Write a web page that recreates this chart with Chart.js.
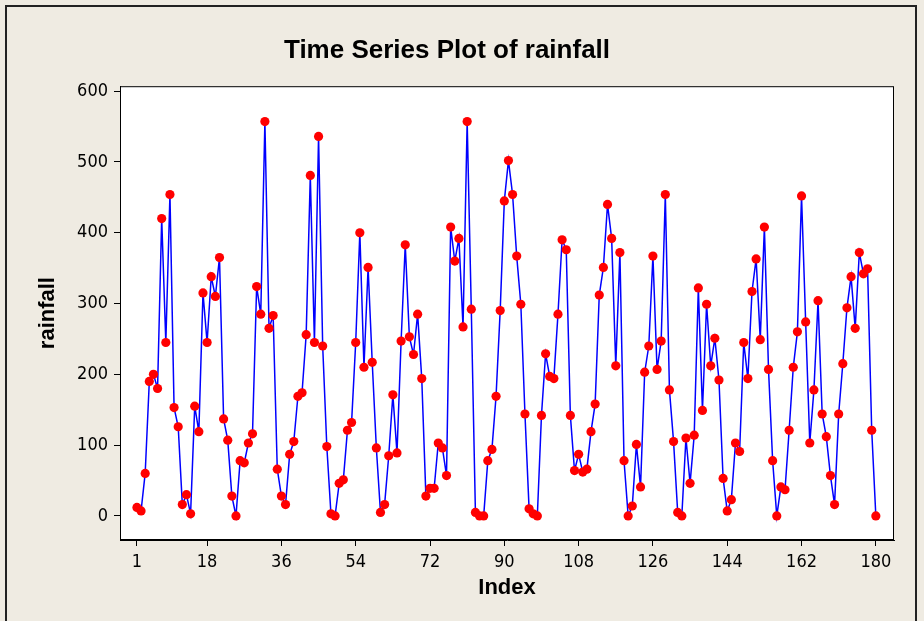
<!DOCTYPE html>
<html>
<head>
<meta charset="utf-8">
<script src="https://cdn.jsdelivr.net/npm/chart.js@4.4.1/dist/chart.umd.min.js"></script>
<style>
  html, body { margin: 0; padding: 0; background: #efebe2; }
</style>
</head>
<body>
<canvas id="rainChart" width="924" height="621"></canvas>
<script>
// monthly rainfall (index 1..180)
const rainfall = [
  12, 7, 60, 190, 200, 180, 420, 245, 454, 153,
  126, 16, 30, 3, 155, 119, 315, 245, 338, 310,
  365, 137, 107, 28, 0, 78, 75, 103, 116, 324,
  285, 557, 265, 283, 66, 28, 16, 87, 105, 169,
  174, 256, 481, 245, 536, 240, 98, 3, 0, 46,
  51, 121, 132, 245, 400, 210, 351, 217, 96, 5,
  16, 85, 171, 89, 247, 383, 253, 228, 285, 194,
  28, 39, 39, 103, 96, 57, 408, 360, 392, 267,
  557, 292, 5, 0, 0, 78, 94, 169, 290, 445,
  502, 454, 367, 299, 144, 10, 3, 0, 142, 229,
  197, 194, 285, 390, 376, 142, 64, 87, 62, 66,
  119, 158, 312, 351, 440, 392, 212, 372, 78, 0,
  14, 101, 41, 203, 240, 367, 207, 247, 454, 178,
  105, 5, 0, 110, 46, 114, 322, 149, 299, 212,
  251, 192, 53, 7, 23, 103, 91, 245, 194, 317,
  363, 249, 408, 207, 78, 0, 41, 37, 121, 210,
  260, 452, 274, 103, 178, 304, 144, 112, 57, 16,
  144, 215, 294, 338, 265, 372, 342, 349, 121, 0
];
const indexValues = rainfall.map((v, i) => i + 1);
const xTicks = [1, 18, 36, 54, 72, 90, 108, 126, 144, 162, 180];
const yTicks = [0, 100, 200, 300, 400, 500, 600];

const NARROW = "'DejaVu Sans Condensed', sans-serif";
const BOLD = "'Liberation Sans', Arial, sans-serif";

// beige page, outer frame and white plot box
const framePlugin = {
  id: "frame",
  beforeDraw(chart) {
    const { ctx, chartArea: a } = chart;
    ctx.save();
    ctx.fillStyle = "#efebe2";
    ctx.fillRect(0, 0, chart.width, chart.height);
    ctx.strokeStyle = "#222";
    ctx.lineWidth = 2;
    ctx.strokeRect(6, 6, 910, 640);
    ctx.fillStyle = "#fff";
    ctx.fillRect(a.left, a.top, a.right - a.left, a.bottom - a.top);
    ctx.restore();
  },
  afterDraw(chart) {
    const { ctx, chartArea: a } = chart;
    ctx.save();
    ctx.strokeStyle = "#000";
    ctx.lineWidth = 1;
    ctx.strokeRect(a.left + 0.5, a.top + 0.5, a.right - a.left - 1, a.bottom - a.top - 1);
    ctx.restore();
  }
};

const ctx = document.getElementById("rainChart").getContext("2d");
new Chart(ctx, {
  type: "line",
  data: {
    datasets: [
      {
        label: "rainfall",
        data: rainfall.map((v, i) => ({ x: indexValues[i], y: v })),
        borderColor: "#0000ff",
        borderWidth: 1.5,
        pointRadius: 4.6,
        pointBackgroundColor: "#ff0000",
        pointBorderWidth: 0,
        tension: 0,
        fill: false,
      },
    ],
  },
  options: {
    responsive: false,
    animation: false,
    layout: { padding: { right: 30 } },
    plugins: {
      legend: { display: false },
      tooltip: { enabled: false },
      title: {
        display: true,
        text: "Time Series Plot of rainfall",
        color: "#000",
        font: { family: BOLD, size: 26, weight: "bold" },
        padding: { top: 35, bottom: 20 },
      },
    },
    scales: {
      x: {
        type: "linear",
        min: -3.1,
        max: 184.4,
        afterBuildTicks: (s) => { s.ticks = xTicks.map((v) => ({ value: v })); },
        afterFit: (s) => { s.height = 81; },
        grid: { drawOnChartArea: false, tickLength: 6, color: "#000" },
        border: { color: "#000" },
        ticks: { color: "#000", font: { family: NARROW, size: 18 }, padding: 6, maxRotation: 0, autoSkip: false },
        title: {
          display: true,
          text: "Index",
          color: "#000",
          font: { family: BOLD, size: 22, weight: "bold" },
          padding: { top: 0, bottom: 20 },
        },
      },
      y: {
        min: -34,
        max: 607,
        afterBuildTicks: (s) => { s.ticks = yTicks.map((v) => ({ value: v })); },
        afterFit: (s) => { s.width = 120; },
        grid: { drawOnChartArea: false, tickLength: 6, color: "#000" },
        border: { color: "#000" },
        ticks: { color: "#000", font: { family: NARROW, size: 18 }, padding: 6 },
        title: {
          display: true,
          text: "rainfall",
          color: "#000",
          font: { family: BOLD, size: 22, weight: "bold" },
          padding: { top: 35, bottom: 0 },
        },
      },
    },
  },
  plugins: [framePlugin],
});
</script>
</body>
</html>
